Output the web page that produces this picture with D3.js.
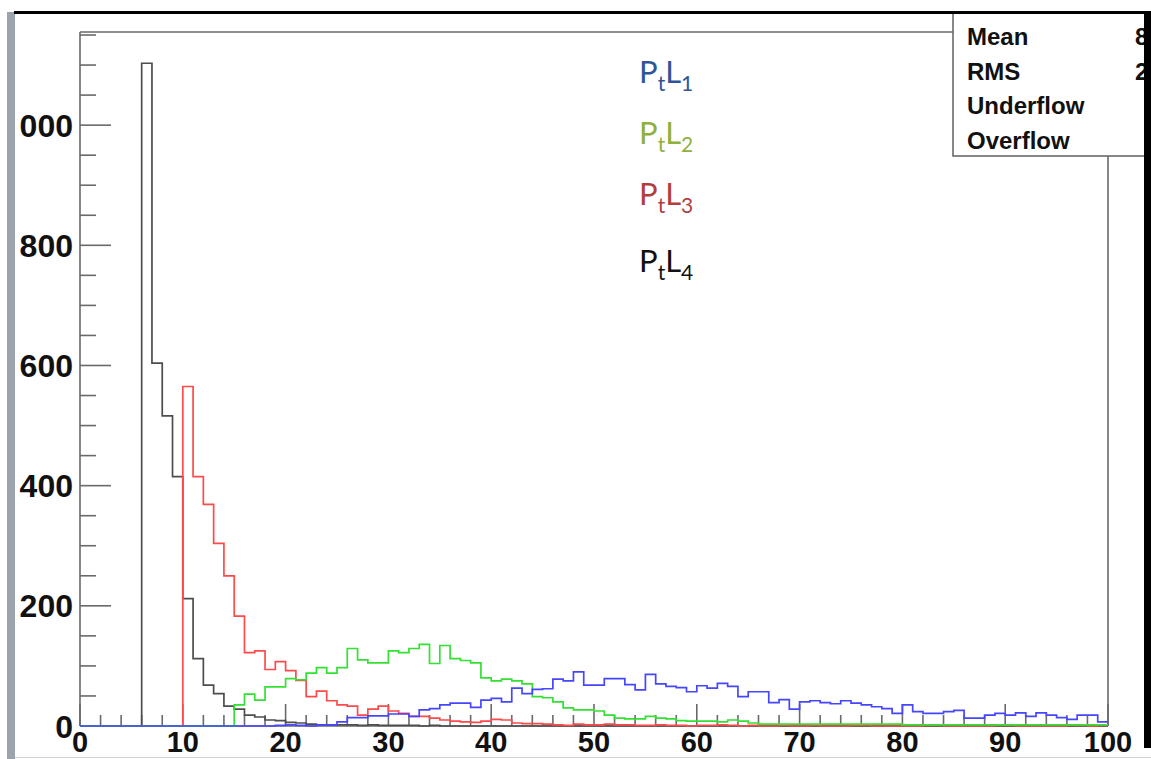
<!DOCTYPE html>
<html>
<head>
<meta charset="utf-8">
<script src="https://cdn.jsdelivr.net/npm/d3@7"></script>
<style>
  body { margin: 0; background: #fff; }
  svg { display: block; }
</style>
</head>
<body>
<div id="chart"></div>
<script>
// bin low edges (unit-width bins, 0..100)
const binLow = [
  0, 1, 2, 3, 4, 5, 6, 7, 8, 9, 10, 11, 12, 13, 14, 15, 16, 17, 18, 19,
  20, 21, 22, 23, 24, 25, 26, 27, 28, 29, 30, 31, 32, 33, 34, 35, 36, 37, 38, 39,
  40, 41, 42, 43, 44, 45, 46, 47, 48, 49, 50, 51, 52, 53, 54, 55, 56, 57, 58, 59,
  60, 61, 62, 63, 64, 65, 66, 67, 68, 69, 70, 71, 72, 73, 74, 75, 76, 77, 78, 79,
  80, 81, 82, 83, 84, 85, 86, 87, 88, 89, 90, 91, 92, 93, 94, 95, 96, 97, 98, 99
];

// P_t of lepton 1 (blue)
const ptL1 = [
  0, 0, 0, 0, 0, 0, 0, 0, 0, 0, 0, 0, 0, 0, 0, 0, 0, 0, 0, 1,
  2, 1, 0, 2, 2, 7, 14, 14, 17, 17, 20, 20, 16, 27, 29, 35, 38, 38, 31, 43,
  46, 40, 63, 54, 61, 62, 78, 75, 90, 68, 68, 79, 79, 69, 60, 86, 70, 66, 64, 57,
  67, 63, 71, 66, 49, 57, 57, 39, 44, 28, 40, 42, 39, 37, 42, 38, 35, 32, 29, 21,
  35, 24, 21, 21, 24, 26, 13, 13, 18, 21, 18, 22, 16, 22, 18, 14, 11, 18, 18, 7
];

// P_t of lepton 2 (green)
const ptL2 = [
  0, 0, 0, 0, 0, 0, 0, 0, 0, 0, 0, 0, 0, 0, 0, 35, 53, 43, 65, 65,
  79, 77, 88, 97, 88, 97, 129, 110, 105, 105, 125, 122, 129, 136, 104, 134, 112, 109, 105, 80,
  75, 78, 75, 70, 49, 47, 40, 30, 27, 27, 25, 18, 13, 12, 12, 16, 13, 12, 9, 8,
  8, 8, 7, 10, 8, 5, 3, 3, 3, 3, 3, 3, 3, 3, 3, 3, 3, 3, 3, 3,
  2, 2, 2, 2, 2, 2, 2, 2, 2, 2, 2, 2, 2, 2, 2, 2, 2, 2, 2, 2
];

// P_t of lepton 3 (red)
const ptL3 = [
  0, 0, 0, 0, 0, 0, 0, 0, 0, 0, 565, 415, 369, 304, 250, 183, 122, 125, 94, 107,
  92, 76, 49, 58, 42, 35, 33, 18, 28, 33, 25, 21, 16, 16, 13, 10, 8, 7, 6, 8,
  11, 10, 5, 4, 4, 3, 2, 1, 3, 2, 2, 3, 2, 2, 1, 1, 2, 1, 1, 0,
  1, 1, 2, 1, 0, 1, 0, 0, 1, 0, 0, 1, 0, 0, 0, 1, 1, 0, 0, 0,
  0, 0, 1, 1, 0, 0, 0, 0, 0, 1, 1, 0, 0, 0, 0, 0, 1, 1, 0, 1
];

// P_t of lepton 4 (black)
const ptL4 = [
  0, 0, 0, 0, 0, 0, 1103, 604, 516, 415, 212, 112, 68, 54, 33, 28, 18, 15, 10, 9,
  6, 5, 3, 2, 2, 2, 2, 1, 2, 1, 1, 1, 1, 0, 1, 0, 0, 0, 0, 0,
  0, 0, 0, 0, 0, 0, 0, 0, 0, 0, 0, 0, 0, 0, 0, 0, 0, 0, 0, 0,
  0, 0, 0, 0, 0, 0, 0, 0, 0, 0, 0, 0, 0, 0, 0, 0, 0, 0, 0, 0,
  0, 0, 0, 0, 0, 0, 0, 0, 0, 0, 0, 0, 0, 0, 0, 0, 0, 0, 0, 0
];

const xTickLabels = [0, 10, 20, 30, 40, 50, 60, 70, 80, 90, 100];
const yTickLabels = [0, 200, 400, 600, 800, 1000];
const legendNames = ["1", "2", "3", "4"];
const statNames = ["Mean", "RMS", "Underflow", "Overflow"];
const statValues = ["8", "2", "", ""];

(function () {
  const W = 1151, H = 759;
  const frame = { left: 80, right: 1108, top: 32, bottom: 726 };

  const svg = d3.select("#chart")
    .append("svg")
    .attr("width", W)
    .attr("height", H)
    .style("background", "#fff");

  const x = d3.scaleLinear().domain([0, 100]).range([frame.left, frame.right]);
  const y = d3.scaleLinear().domain([0, 1155]).range([frame.bottom, frame.top]);

  const axisColor = "#6a6a6a";
  const tickFont = "'Liberation Sans', Arial, Helvetica, sans-serif";

  // the screenshot cuts the left of the y labels (the "1" of 1000)
  svg.append("clipPath").attr("id", "labelClip")
    .append("rect")
    .attr("x", 19).attr("y", 0)
    .attr("width", W).attr("height", H);

  // frame (top + right)
  svg.append("path")
    .attr("d", `M${frame.left},${frame.top}H${frame.right}V${frame.bottom}`)
    .attr("fill", "none")
    .attr("stroke", axisColor)
    .attr("stroke-width", 1.6);

  // y axis: major every 200, minor every 50
  const yAxis = svg.append("g");
  yAxis.append("line")
    .attr("x1", frame.left).attr("x2", frame.left)
    .attr("y1", frame.top).attr("y2", frame.bottom)
    .attr("stroke", axisColor).attr("stroke-width", 1.6);
  yAxis.selectAll("line.tick")
    .data(d3.range(0, 1151, 50))
    .join("line")
    .attr("class", "tick")
    .attr("x1", frame.left)
    .attr("x2", d => frame.left + (d % 200 === 0 ? 31 : 16))
    .attr("y1", d => y(d)).attr("y2", d => y(d))
    .attr("stroke", axisColor).attr("stroke-width", 1.6);
  yAxis.append("g")
    .attr("clip-path", "url(#labelClip)")
    .selectAll("text")
    .data(yTickLabels)
    .join("text")
    .attr("x", 73)
    .attr("y", d => y(d) + 11.5)
    .attr("text-anchor", "end")
    .style("font-family", tickFont)
    .style("font-weight", "bold")
    .style("font-size", "32px")
    .attr("fill", "#111")
    .text(d => d);

  // x axis: major every 10, minor every 2
  const xAxis = svg.append("g");
  xAxis.append("line")
    .attr("x1", frame.left).attr("x2", frame.right)
    .attr("y1", frame.bottom).attr("y2", frame.bottom)
    .attr("stroke", axisColor).attr("stroke-width", 1.6);
  xAxis.selectAll("line.tick")
    .data(d3.range(0, 101, 2))
    .join("line")
    .attr("class", "tick")
    .attr("x1", d => x(d)).attr("x2", d => x(d))
    .attr("y1", frame.bottom)
    .attr("y2", d => frame.bottom - (d % 10 === 0 ? 22 : 11))
    .attr("stroke", axisColor).attr("stroke-width", 1.6);
  xAxis.selectAll("text")
    .data(xTickLabels)
    .join("text")
    .attr("x", d => x(d))
    .attr("y", 752)
    .attr("text-anchor", "middle")
    .style("font-family", tickFont)
    .style("font-weight", "bold")
    .style("font-size", "29px")
    .attr("fill", "#111")
    .text(d => d);

  // histograms as step outlines
  const series = [
    { values: ptL4, color: "#4d4d4d" },
    { values: ptL3, color: "#ff4a4a" },
    { values: ptL2, color: "#33e033" },
    { values: ptL1, color: "#4646ff" }
  ];

  const line = d3.line()
    .x(d => x(d[0]))
    .y(d => y(d[1]))
    .curve(d3.curveStepAfter);

  svg.append("clipPath").attr("id", "plotClip")
    .append("rect")
    .attr("x", frame.left).attr("y", frame.top)
    .attr("width", frame.right - frame.left)
    .attr("height", frame.bottom - frame.top + 1);

  svg.append("g")
    .attr("clip-path", "url(#plotClip)")
    .selectAll("path")
    .data(series)
    .join("path")
    .attr("d", s => {
      const pts = binLow.map((b, i) => [b, s.values[i]]);
      pts.push([100, s.values[s.values.length - 1]]);
      return line(pts);
    })
    .attr("fill", "none")
    .attr("stroke", s => s.color)
    .attr("stroke-width", 1.7);

  // legend labels P_t L_n
  const legendColors = ["#2f5597", "#8fb03c", "#b13e3c", "#111111"];
  const legendY = [83, 144, 205, 272];
  const legend = svg.append("g")
    .style("font-family", "Lato, 'Open Sans', sans-serif")
    .style("font-size", "31px");
  legendNames.forEach((n, i) => {
    const t = legend.append("text")
      .attr("x", 639)
      .attr("y", legendY[i])
      .attr("fill", legendColors[i]);
    t.append("tspan").text("P");
    t.append("tspan").attr("dy", 8).style("font-size", "21px").text("t");
    t.append("tspan").attr("dy", -8).text("L");
    t.append("tspan").attr("dy", 8).style("font-size", "21px").text(n);
  });

  // stats box
  const box = svg.append("g");
  box.append("rect")
    .attr("x", 953).attr("y", 12)
    .attr("width", 200).attr("height", 144)
    .attr("fill", "#fff")
    .attr("stroke", axisColor)
    .attr("stroke-width", 1.6);
  const statY = [45, 80, 114, 149];
  box.selectAll("text.name")
    .data(statNames)
    .join("text")
    .attr("class", "name")
    .attr("x", 967)
    .attr("y", (d, i) => statY[i])
    .style("font-family", tickFont)
    .style("font-weight", "bold")
    .style("font-size", "24px")
    .attr("fill", "#111")
    .text(d => d);
  box.selectAll("text.val")
    .data(statValues)
    .join("text")
    .attr("class", "val")
    .attr("x", 1135)
    .attr("y", (d, i) => statY[i])
    .style("font-family", tickFont)
    .style("font-weight", "bold")
    .style("font-size", "24px")
    .attr("fill", "#111")
    .text(d => d);

  // window edges of the screenshot
  svg.append("rect").attr("x", 0).attr("y", 0).attr("width", 7).attr("height", H).attr("fill", "#fff");
  svg.append("rect").attr("x", 7).attr("y", 12).attr("width", 8).attr("height", H - 12).attr("fill", "#9ca3ad");
  svg.append("rect").attr("x", 14).attr("y", 11).attr("width", W - 14).attr("height", 3).attr("fill", "#000");
  svg.append("rect").attr("x", 1144).attr("y", 11).attr("width", 7).attr("height", 737).attr("fill", "#000");
  svg.append("line")
    .attr("x1", 15).attr("x2", W).attr("y1", 757.5).attr("y2", 757.5)
    .attr("stroke", "#d0d0d0").attr("stroke-width", 1);
})();
</script>
</body>
</html>
